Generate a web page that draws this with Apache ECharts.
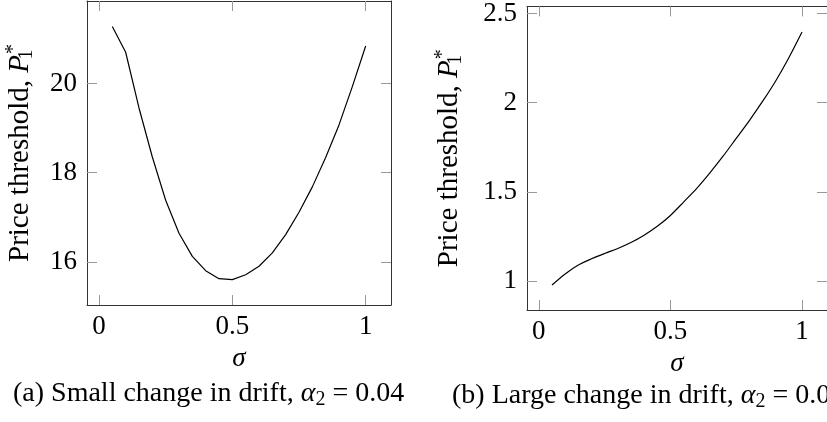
<!DOCTYPE html>
<html>
<head>
<meta charset="utf-8">
<script src="https://cdn.jsdelivr.net/npm/echarts@6/dist/echarts.min.js"></script>
<style>
  html, body { margin: 0; padding: 0; background: #fff; }
  #chart { width: 827px; height: 422px; }
</style>
</head>
<body>
<div id="chart"></div>
<script>
// sigma grid shared by both panels
const sigma = [0.05, 0.1, 0.15, 0.2, 0.25, 0.3, 0.35, 0.4, 0.45, 0.5,
  0.55, 0.6, 0.65, 0.7, 0.75, 0.8, 0.85, 0.9, 0.95, 1.0]
// (a) small change in drift, alpha2 = 0.04
const priceSmall = [21.28, 20.70, 19.45, 18.35, 17.38, 16.64, 16.12, 15.80, 15.62, 15.60,
  15.71, 15.90, 16.20, 16.61, 17.11, 17.68, 18.34, 19.07, 19.93, 20.84]
// (b) large change in drift, alpha2 = 0.08
const priceLarge = [0.978, 1.040, 1.090, 1.125, 1.155, 1.183, 1.216, 1.257, 1.307, 1.368,
  1.443, 1.520, 1.607, 1.700, 1.800, 1.900, 2.007, 2.122, 2.252, 2.396]

const xTicks = [0, 0.5, 1]
const yTicksSmall = [16, 18, 20]
const yTicksLarge = [1, 1.5, 2, 2.5]

const FONT = 'Liberation Serif'
const FS = 27

function richFor(fs) {
  const small = Math.round(fs * 0.7)
  return {
    t: { fontFamily: FONT, fontSize: fs, color: '#000', lineHeight: fs + 4 },
    it: { fontFamily: FONT, fontSize: fs, fontStyle: 'italic', color: '#000', lineHeight: fs + 4 },
    sub: { fontFamily: FONT, fontSize: small, color: '#000', lineHeight: small, verticalAlign: 'bottom' },
    sub0: { fontFamily: FONT, fontSize: small, color: '#000', lineHeight: small, verticalAlign: 'bottom', width: 1 },
    sup: { fontFamily: FONT, fontSize: small, color: '#000', lineHeight: small, verticalAlign: 'top' }
  }
}

function xAxes(gridIndex) {
  const base = {
    gridIndex: gridIndex,
    type: 'value',
    min: -0.045,
    max: 1.095,
    splitLine: { show: false },
    axisLine: { show: true, onZero: false, lineStyle: { color: '#333', width: 1 } },
    axisTick: { show: true, inside: true, length: 10, customValues: xTicks, lineStyle: { color: '#999' } }
  }
  return [
    Object.assign({}, base, {
      position: 'bottom',
      axisLabel: { customValues: xTicks, margin: 8, fontFamily: FONT, fontSize: FS, color: '#000' },
      name: 'σ',
      nameLocation: 'middle',
      nameGap: 40,
      nameTextStyle: { fontFamily: FONT, fontSize: FS, fontStyle: 'italic', color: '#000' }
    }),
    Object.assign({}, base, { position: 'top', axisLabel: { show: false } })
  ]
}

function yAxes(gridIndex, min, max, ticks, gap) {
  const base = {
    gridIndex: gridIndex,
    type: 'value',
    min: min,
    max: max,
    splitLine: { show: false },
    axisLine: { show: true, onZero: false, lineStyle: { color: '#333', width: 1 } },
    axisTick: { show: true, inside: true, length: 10, customValues: ticks, lineStyle: { color: '#999' } }
  }
  return [
    Object.assign({}, base, {
      position: 'left',
      axisLabel: { customValues: ticks, margin: 10, fontFamily: FONT, fontSize: FS, color: '#000' },
      name: '{t|Price threshold, }{it|P}{sub0|1}{sup|*}',
      nameLocation: 'middle',
      nameRotate: 90,
      nameGap: gap,
      nameTextStyle: { rich: richFor(29) }
    }),
    Object.assign({}, base, { position: 'right', axisLabel: { show: false } })
  ]
}

const chart = echarts.init(document.getElementById('chart'), null, { renderer: 'canvas' })
chart.setOption({
  animation: false,
  backgroundColor: '#fff',
  grid: [
    { left: 87, top: 1, width: 304, height: 304 },
    { left: 527, top: 6, width: 304, height: 304 }
  ],
  xAxis: xAxes(0).concat(xAxes(1)),
  yAxis: yAxes(0, 15.03, 21.85, yTicksSmall, 50).concat(yAxes(1, 0.838, 2.54, yTicksLarge, 61)),
  series: [
    {
      type: 'line',
      xAxisIndex: 0,
      yAxisIndex: 0,
      data: sigma.map((s, i) => [s, priceSmall[i]]),
      showSymbol: false,
      lineStyle: { color: '#000', width: 1.2 }
    },
    {
      type: 'line',
      xAxisIndex: 2,
      yAxisIndex: 2,
      data: sigma.map((s, i) => [s, priceLarge[i]]),
      showSymbol: false,
      smooth: 0.3,
      lineStyle: { color: '#000', width: 1.2 }
    }
  ],
  graphic: [
    {
      type: 'text',
      left: 13,
      top: 380,
      style: { text: '{t|(a) Small change in drift, }{it|α}{sub|2}{t| = 0.04}', rich: richFor(28) }
    },
    {
      type: 'text',
      left: 452,
      top: 382,
      style: { text: '{t|(b) Large change in drift, }{it|α}{sub|2}{t| = 0.08}', rich: richFor(28) }
    }
  ]
})
</script>
</body>
</html>
